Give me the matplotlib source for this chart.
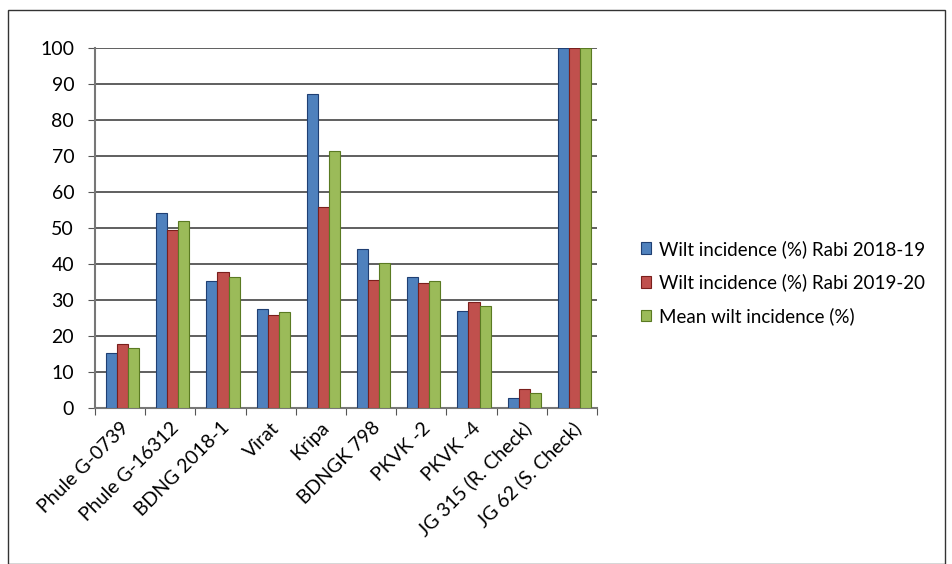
import matplotlib
matplotlib.use("Agg")
import matplotlib.pyplot as plt
import numpy as np
from matplotlib.patches import Rectangle

plt.rcParams['font.family'] = ['Lato', 'DejaVu Sans']

# wilt incidence per genotype
GENOTYPES = ["Phule G-0739", "Phule G-16312", "BDNG 2018-1", "Virat", "Kripa",
             "BDNGK 798", "PKVK -2", "PKVK -4", "JG 315 (R. Check)", "JG 62 (S. Check)"]
RABI_2018_19 = [15.4, 54.3, 35.3, 27.4, 87.2, 44.1, 36.3, 27.0, 2.9, 100]
RABI_2019_20 = [17.9, 49.5, 37.8, 25.9, 55.7, 35.6, 34.7, 29.5, 5.2, 100]
MEAN_WILT = [16.6, 52.0, 36.5, 26.6, 71.4, 40.2, 35.3, 28.2, 4.1, 100]
SERIES_NAMES = ["Wilt incidence (%) Rabi 2018-19",
                "Wilt incidence (%) Rabi 2019-20",
                "Mean wilt incidence (%)"]

colors = ["#4F81BD", "#C0504D", "#9BBB59"]
edges = ["#1F3F73", "#7A1F1C", "#5A7A22"]

fig = plt.figure(figsize=(9.53, 5.64), dpi=100)
ax = fig.add_axes([95 / 953, 1 - 408 / 564, (597 - 95) / 953, (408 - 48) / 564])

x = np.arange(len(GENOTYPES))
w = 0.22
for i, (vals, name) in enumerate(zip([RABI_2018_19, RABI_2019_20, MEAN_WILT], SERIES_NAMES)):
    ax.bar(x + (i - 1) * w + 0.05, vals, w, color=colors[i], edgecolor=edges[i],
           linewidth=0.8, label=name, zorder=3)

ax.set_xlim(-0.5, len(GENOTYPES) - 0.5)
ax.set_ylim(0, 100)
ax.set_yticks(np.arange(0, 101, 10))
ax.yaxis.grid(True, color="#444444", linewidth=1.2, zorder=0)
ax.set_xticks(np.arange(-0.5, len(GENOTYPES), 1), minor=False)
ax.set_xticklabels([])
ax.set_xticks(x, minor=True)
ax.set_xticklabels(GENOTYPES, minor=True, rotation=45, ha="right",
                   rotation_mode="anchor", fontsize=14)
ax.tick_params(axis="x", which="minor", length=0, pad=8)
ax.tick_params(axis="x", which="major", length=5, color="#555555")
ax.tick_params(axis="y", labelsize=14, length=5, color="#555555", pad=10)
for s in ["top", "right"]:
    ax.spines[s].set_visible(False)
ax.spines["left"].set_color("#777777")
ax.spines["bottom"].set_color("#777777")
ax.spines["left"].set_linewidth(1.5)
ax.spines["bottom"].set_linewidth(1.5)

fig.legend(loc="upper left", bbox_to_anchor=(624 / 953, 1 - 223 / 564),
           frameon=False, fontsize=13.5, handlelength=0.55, handleheight=0.55,
           handletextpad=0.4, labelspacing=0.85)

fig.add_artist(Rectangle((8 / 953, 0), 937 / 953, 1 - 10 / 564, transform=fig.transFigure,
                         fill=False, edgecolor="#333333", linewidth=1.0))

fig.savefig("out.png", dpi=100)
